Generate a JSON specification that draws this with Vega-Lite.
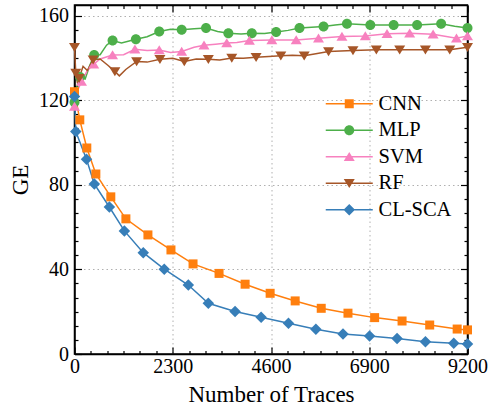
{
  "$schema": "https://vega.github.io/schema/vega-lite/v6.json",
  "width": 393,
  "height": 349,
  "autosize": {"type": "none"},
  "padding": {"left": 74.5, "top": 5, "right": 31.5, "bottom": 57},
  "config": {
    "view": {"stroke": "black", "strokeWidth": 1.5},
    "font": "Liberation Serif",
    "axis": {
      "labelFont": "Liberation Serif", "titleFont": "Liberation Serif",
      "labelFontSize": 20, "titleFontSize": 23, "titleFontWeight": "normal",
      "labelColor": "black", "titleColor": "black",
      "domainColor": "black", "domainWidth": 1.5,
      "tickColor": "black", "tickWidth": 1.2,
      "gridColor": "#b0b0b0", "gridDash": [1.5, 3], "gridWidth": 1
    },
    "legend": {
      "orient": "none", "legendX": 264.5, "legendY": 88.5,
      "labelFont": "Liberation Serif", "labelFontSize": 20.5, "labelColor": "black",
      "labelOffset": 19, "rowPadding": 5.5, "symbolSize": 100, "symbolStrokeWidth": 0,
      "padding": 0
    }
  },
  "datasets": {
    "curve": [
      {"series": "CNN", "t": 0, "ge": 124}, {"series": "CNN", "t": 124, "ge": 110.7}, {"series": "CNN", "t": 288, "ge": 97.4}, {"series": "CNN", "t": 500, "ge": 85.1}, {"series": "CNN", "t": 850, "ge": 74.3}, {"series": "CNN", "t": 1203, "ge": 63.9}, {"series": "CNN", "t": 1719, "ge": 56.3}, {"series": "CNN", "t": 2258, "ge": 49.2}, {"series": "CNN", "t": 2775, "ge": 42.6}, {"series": "CNN", "t": 3384, "ge": 38.1}, {"series": "CNN", "t": 3994, "ge": 33}, {"series": "CNN", "t": 4580, "ge": 28.7}, {"series": "CNN", "t": 5166, "ge": 25.1}, {"series": "CNN", "t": 5776, "ge": 21.6}, {"series": "CNN", "t": 6402, "ge": 19.3}, {"series": "CNN", "t": 7026, "ge": 17.2}, {"series": "CNN", "t": 7668, "ge": 15.6}, {"series": "CNN", "t": 8315, "ge": 13.7}, {"series": "CNN", "t": 8958, "ge": 11.8}, {"series": "CNN", "t": 9200, "ge": 11.4},

      {"series": "MLP", "t": 0, "ge": 119}, {"series": "MLP", "t": 50, "ge": 126}, {"series": "MLP", "t": 130, "ge": 131}, {"series": "MLP", "t": 250, "ge": 130}, {"series": "MLP", "t": 350, "ge": 136}, {"series": "MLP", "t": 460, "ge": 141.4}, {"series": "MLP", "t": 600, "ge": 141.5}, {"series": "MLP", "t": 750, "ge": 146}, {"series": "MLP", "t": 891, "ge": 148.2}, {"series": "MLP", "t": 1100, "ge": 147}, {"series": "MLP", "t": 1437, "ge": 148.8}, {"series": "MLP", "t": 1700, "ge": 150}, {"series": "MLP", "t": 1984, "ge": 152.5}, {"series": "MLP", "t": 2250, "ge": 153.5}, {"series": "MLP", "t": 2509, "ge": 153.3}, {"series": "MLP", "t": 2800, "ge": 153.8}, {"series": "MLP", "t": 3079, "ge": 154.1}, {"series": "MLP", "t": 3350, "ge": 152.5}, {"series": "MLP", "t": 3602, "ge": 151.7}, {"series": "MLP", "t": 3900, "ge": 151.3}, {"series": "MLP", "t": 4151, "ge": 151.7}, {"series": "MLP", "t": 4450, "ge": 151.5}, {"series": "MLP", "t": 4720, "ge": 152.2}, {"series": "MLP", "t": 5000, "ge": 153}, {"series": "MLP", "t": 5267, "ge": 154.1}, {"series": "MLP", "t": 5550, "ge": 154.5}, {"series": "MLP", "t": 5830, "ge": 154.8}, {"series": "MLP", "t": 6100, "ge": 155.5}, {"series": "MLP", "t": 6378, "ge": 156.1}, {"series": "MLP", "t": 6925, "ge": 155.6}, {"series": "MLP", "t": 7471, "ge": 155.6}, {"series": "MLP", "t": 8020, "ge": 155.6}, {"series": "MLP", "t": 8583, "ge": 156.1}, {"series": "MLP", "t": 8900, "ge": 155}, {"series": "MLP", "t": 9200, "ge": 154.1},

      {"series": "SVM", "t": 0, "ge": 117}, {"series": "SVM", "t": 60, "ge": 124}, {"series": "SVM", "t": 164, "ge": 128.8}, {"series": "SVM", "t": 300, "ge": 134}, {"series": "SVM", "t": 450, "ge": 137}, {"series": "SVM", "t": 600, "ge": 139.5}, {"series": "SVM", "t": 891, "ge": 141.4}, {"series": "SVM", "t": 1150, "ge": 141.5}, {"series": "SVM", "t": 1414, "ge": 144.1}, {"series": "SVM", "t": 1700, "ge": 143.5}, {"series": "SVM", "t": 1984, "ge": 143.7}, {"series": "SVM", "t": 2250, "ge": 142.5}, {"series": "SVM", "t": 2509, "ge": 143}, {"series": "SVM", "t": 2800, "ge": 145}, {"series": "SVM", "t": 3032, "ge": 146}, {"series": "SVM", "t": 3300, "ge": 146.5}, {"series": "SVM", "t": 3564, "ge": 147}, {"series": "SVM", "t": 3800, "ge": 147.3}, {"series": "SVM", "t": 4094, "ge": 148.2}, {"series": "SVM", "t": 4620, "ge": 148.5}, {"series": "SVM", "t": 5190, "ge": 148.5}, {"series": "SVM", "t": 5712, "ge": 149.3}, {"series": "SVM", "t": 6261, "ge": 150.1}, {"series": "SVM", "t": 6808, "ge": 150.4}, {"series": "SVM", "t": 7316, "ge": 151.4}, {"series": "SVM", "t": 7846, "ge": 151.7}, {"series": "SVM", "t": 8395, "ge": 151.2}, {"series": "SVM", "t": 8942, "ge": 149.3}, {"series": "SVM", "t": 9200, "ge": 150.4},

      {"series": "RF", "t": 0, "ge": 145}, {"series": "RF", "t": 30, "ge": 132.8}, {"series": "RF", "t": 70, "ge": 128}, {"series": "RF", "t": 108, "ge": 130.4}, {"series": "RF", "t": 200, "ge": 136}, {"series": "RF", "t": 300, "ge": 134}, {"series": "RF", "t": 436, "ge": 139.1}, {"series": "RF", "t": 600, "ge": 139.5}, {"series": "RF", "t": 780, "ge": 136.5}, {"series": "RF", "t": 945, "ge": 133.6}, {"series": "RF", "t": 1050, "ge": 131.5}, {"series": "RF", "t": 1200, "ge": 134.5}, {"series": "RF", "t": 1454, "ge": 138.3}, {"series": "RF", "t": 1700, "ge": 138}, {"series": "RF", "t": 2000, "ge": 139.4}, {"series": "RF", "t": 2300, "ge": 139.8}, {"series": "RF", "t": 2570, "ge": 138.3}, {"series": "RF", "t": 2850, "ge": 139.5}, {"series": "RF", "t": 3133, "ge": 139.4}, {"series": "RF", "t": 3400, "ge": 139}, {"series": "RF", "t": 3682, "ge": 139.9}, {"series": "RF", "t": 3950, "ge": 139.8}, {"series": "RF", "t": 4251, "ge": 140.3}, {"series": "RF", "t": 4550, "ge": 140.6}, {"series": "RF", "t": 4830, "ge": 141}, {"series": "RF", "t": 5100, "ge": 141.3}, {"series": "RF", "t": 5377, "ge": 141}, {"series": "RF", "t": 5650, "ge": 142}, {"series": "RF", "t": 5947, "ge": 143}, {"series": "RF", "t": 6519, "ge": 143.5}, {"series": "RF", "t": 7066, "ge": 143.8}, {"series": "RF", "t": 7612, "ge": 143.8}, {"series": "RF", "t": 8215, "ge": 143.8}, {"series": "RF", "t": 8784, "ge": 143.8}, {"series": "RF", "t": 9200, "ge": 145},

      {"series": "CL-SCA", "t": 0, "ge": 121.7}, {"series": "CL-SCA", "t": 30, "ge": 105.2}, {"series": "CL-SCA", "t": 281, "ge": 92.1}, {"series": "CL-SCA", "t": 464, "ge": 80.4}, {"series": "CL-SCA", "t": 816, "ge": 69.5}, {"series": "CL-SCA", "t": 1168, "ge": 58.2}, {"series": "CL-SCA", "t": 1609, "ge": 47.9}, {"series": "CL-SCA", "t": 2101, "ge": 40.1}, {"series": "CL-SCA", "t": 2664, "ge": 32.6}, {"series": "CL-SCA", "t": 3133, "ge": 24}, {"series": "CL-SCA", "t": 3759, "ge": 20.1}, {"series": "CL-SCA", "t": 4369, "ge": 17.4}, {"series": "CL-SCA", "t": 5009, "ge": 14.5}, {"series": "CL-SCA", "t": 5651, "ge": 11.7}, {"series": "CL-SCA", "t": 6285, "ge": 9.5}, {"series": "CL-SCA", "t": 6908, "ge": 8.5}, {"series": "CL-SCA", "t": 7551, "ge": 7.3}, {"series": "CL-SCA", "t": 8215, "ge": 5.8}, {"series": "CL-SCA", "t": 8878, "ge": 5.1}, {"series": "CL-SCA", "t": 9200, "ge": 4.7}
    ],
    "markers": [
      {"series": "CNN", "t": 0, "ge": 124}, {"series": "CNN", "t": 124, "ge": 110.7}, {"series": "CNN", "t": 288, "ge": 97.4}, {"series": "CNN", "t": 500, "ge": 85.1}, {"series": "CNN", "t": 850, "ge": 74.3}, {"series": "CNN", "t": 1203, "ge": 63.9}, {"series": "CNN", "t": 1719, "ge": 56.3}, {"series": "CNN", "t": 2258, "ge": 49.2}, {"series": "CNN", "t": 2775, "ge": 42.6}, {"series": "CNN", "t": 3384, "ge": 38.1}, {"series": "CNN", "t": 3994, "ge": 33}, {"series": "CNN", "t": 4580, "ge": 28.7}, {"series": "CNN", "t": 5166, "ge": 25.1}, {"series": "CNN", "t": 5776, "ge": 21.6}, {"series": "CNN", "t": 6402, "ge": 19.3}, {"series": "CNN", "t": 7026, "ge": 17.2}, {"series": "CNN", "t": 7668, "ge": 15.6}, {"series": "CNN", "t": 8315, "ge": 13.7}, {"series": "CNN", "t": 8958, "ge": 11.8}, {"series": "CNN", "t": 9200, "ge": 11.4},

      {"series": "MLP", "t": 0, "ge": 119}, {"series": "MLP", "t": 130, "ge": 131}, {"series": "MLP", "t": 460, "ge": 141.4}, {"series": "MLP", "t": 891, "ge": 148.2}, {"series": "MLP", "t": 1437, "ge": 148.8}, {"series": "MLP", "t": 1984, "ge": 152.5}, {"series": "MLP", "t": 2509, "ge": 153.3}, {"series": "MLP", "t": 3079, "ge": 154.1}, {"series": "MLP", "t": 3602, "ge": 151.7}, {"series": "MLP", "t": 4151, "ge": 151.7}, {"series": "MLP", "t": 4720, "ge": 152.2}, {"series": "MLP", "t": 5267, "ge": 154.1}, {"series": "MLP", "t": 5830, "ge": 154.8}, {"series": "MLP", "t": 6378, "ge": 156.1}, {"series": "MLP", "t": 6925, "ge": 155.6}, {"series": "MLP", "t": 7471, "ge": 155.6}, {"series": "MLP", "t": 8020, "ge": 155.6}, {"series": "MLP", "t": 8583, "ge": 156.1}, {"series": "MLP", "t": 9200, "ge": 154.1},

      {"series": "SVM", "t": 0, "ge": 117}, {"series": "SVM", "t": 164, "ge": 128.8}, {"series": "SVM", "t": 450, "ge": 137}, {"series": "SVM", "t": 891, "ge": 141.4}, {"series": "SVM", "t": 1414, "ge": 144.1}, {"series": "SVM", "t": 1984, "ge": 143.7}, {"series": "SVM", "t": 2509, "ge": 143}, {"series": "SVM", "t": 3032, "ge": 146}, {"series": "SVM", "t": 3564, "ge": 147}, {"series": "SVM", "t": 4094, "ge": 148.2}, {"series": "SVM", "t": 4620, "ge": 148.5}, {"series": "SVM", "t": 5190, "ge": 148.5}, {"series": "SVM", "t": 5712, "ge": 149.3}, {"series": "SVM", "t": 6261, "ge": 150.1}, {"series": "SVM", "t": 6808, "ge": 150.4}, {"series": "SVM", "t": 7316, "ge": 151.4}, {"series": "SVM", "t": 7846, "ge": 151.7}, {"series": "SVM", "t": 8395, "ge": 151.2}, {"series": "SVM", "t": 8942, "ge": 149.3}, {"series": "SVM", "t": 9200, "ge": 150.4},

      {"series": "RF", "t": 0, "ge": 145}, {"series": "RF", "t": 30, "ge": 132.8}, {"series": "RF", "t": 108, "ge": 130.4}, {"series": "RF", "t": 436, "ge": 139.1}, {"series": "RF", "t": 945, "ge": 133.6}, {"series": "RF", "t": 1454, "ge": 138.3}, {"series": "RF", "t": 2000, "ge": 139.4}, {"series": "RF", "t": 2570, "ge": 138.3}, {"series": "RF", "t": 3133, "ge": 139.4}, {"series": "RF", "t": 3682, "ge": 139.9}, {"series": "RF", "t": 4251, "ge": 140.3}, {"series": "RF", "t": 4830, "ge": 141}, {"series": "RF", "t": 5377, "ge": 141}, {"series": "RF", "t": 5947, "ge": 143}, {"series": "RF", "t": 6519, "ge": 143.5}, {"series": "RF", "t": 7066, "ge": 143.8}, {"series": "RF", "t": 7612, "ge": 143.8}, {"series": "RF", "t": 8215, "ge": 143.8}, {"series": "RF", "t": 8784, "ge": 143.8}, {"series": "RF", "t": 9200, "ge": 145},

      {"series": "CL-SCA", "t": 0, "ge": 121.7}, {"series": "CL-SCA", "t": 30, "ge": 105.2}, {"series": "CL-SCA", "t": 281, "ge": 92.1}, {"series": "CL-SCA", "t": 464, "ge": 80.4}, {"series": "CL-SCA", "t": 816, "ge": 69.5}, {"series": "CL-SCA", "t": 1168, "ge": 58.2}, {"series": "CL-SCA", "t": 1609, "ge": 47.9}, {"series": "CL-SCA", "t": 2101, "ge": 40.1}, {"series": "CL-SCA", "t": 2664, "ge": 32.6}, {"series": "CL-SCA", "t": 3133, "ge": 24}, {"series": "CL-SCA", "t": 3759, "ge": 20.1}, {"series": "CL-SCA", "t": 4369, "ge": 17.4}, {"series": "CL-SCA", "t": 5009, "ge": 14.5}, {"series": "CL-SCA", "t": 5651, "ge": 11.7}, {"series": "CL-SCA", "t": 6285, "ge": 9.5}, {"series": "CL-SCA", "t": 6908, "ge": 8.5}, {"series": "CL-SCA", "t": 7551, "ge": 7.3}, {"series": "CL-SCA", "t": 8215, "ge": 5.8}, {"series": "CL-SCA", "t": 8878, "ge": 5.1}, {"series": "CL-SCA", "t": 9200, "ge": 4.7}
    ]
  },
  "resolve": {
    "scale": {"color": "independent", "shape": "independent"},
    "axis": {"x": "independent", "y": "independent"}
  },
  "layer": [
    {
      "data": {"name": "curve"},
      "mark": {"type": "line", "strokeWidth": 1.5},
      "encoding": {
        "x": {
          "field": "t", "type": "quantitative",
          "scale": {"domain": [0, 9200], "nice": false, "zero": false},
          "axis": {
            "orient": "bottom", "title": "Number of Traces", "format": "d",
            "values": [0, 383.33, 766.67, 1150, 1533.33, 1916.67, 2300, 2683.33, 3066.67, 3450, 3833.33, 4216.67, 4600, 4983.33, 5366.67, 5750, 6133.33, 6516.67, 6900, 7283.33, 7666.67, 8050, 8433.33, 8816.67, 9200],
            "labelExpr": "abs(datum.value/2300 - round(datum.value/2300)) < 0.001 ? datum.label : ''",
            "tickSize": {"condition": {"test": "abs(datum.value/2300 - round(datum.value/2300)) < 0.001", "value": -7}, "value": -3.5},
            "labelPadding": 9,
            "grid": true,
            "gridOpacity": {"condition": {"test": "abs(datum.value/2300 - round(datum.value/2300)) < 0.001 && datum.value > 0 && datum.value < 9200", "value": 1}, "value": 0},
            "labelFlush": false, "labelOverlap": false, "titlePadding": 4
          }
        },
        "y": {
          "field": "ge", "type": "quantitative",
          "scale": {"domain": [0, 165], "nice": false, "zero": false},
          "axis": {
            "orient": "left", "title": "GE", "format": "d",
            "values": [0, 6.667, 13.333, 20, 26.667, 33.333, 40, 46.667, 53.333, 60, 66.667, 73.333, 80, 86.667, 93.333, 100, 106.667, 113.333, 120, 126.667, 133.333, 140, 146.667, 153.333, 160],
            "labelExpr": "abs(datum.value/40 - round(datum.value/40)) < 0.001 ? datum.label : ''",
            "tickSize": {"condition": {"test": "abs(datum.value/40 - round(datum.value/40)) < 0.001", "value": -7}, "value": -3.5},
            "labelPadding": 13,
            "grid": true,
            "gridOpacity": {"condition": {"test": "abs(datum.value/40 - round(datum.value/40)) < 0.001 && datum.value > 0", "value": 1}, "value": 0},
            "labelFlush": false, "labelOverlap": false, "titlePadding": 6
          }
        },
        "color": {
          "field": "series", "type": "nominal",
          "scale": {"domain": ["CNN", "MLP", "SVM", "RF", "CL-SCA"], "range": ["#ff7f0e", "#4daf4a", "#f781bf", "#a65628", "#377eb8"]},
          "legend": null
        }
      }
    },
    {
      "data": {"name": "markers"},
      "mark": {"type": "point", "filled": true, "size": 100, "opacity": 1},
      "encoding": {
        "x": {
          "field": "t", "type": "quantitative",
          "scale": {"domain": [0, 9200], "nice": false, "zero": false},
          "axis": {
            "orient": "top", "title": null, "labels": false, "grid": false,
            "values": [0, 383.33, 766.67, 1150, 1533.33, 1916.67, 2300, 2683.33, 3066.67, 3450, 3833.33, 4216.67, 4600, 4983.33, 5366.67, 5750, 6133.33, 6516.67, 6900, 7283.33, 7666.67, 8050, 8433.33, 8816.67, 9200],
            "tickSize": {"condition": {"test": "abs(datum.value/2300 - round(datum.value/2300)) < 0.001", "value": -7}, "value": -3.5}
          }
        },
        "y": {
          "field": "ge", "type": "quantitative",
          "scale": {"domain": [0, 165], "nice": false, "zero": false},
          "axis": {
            "orient": "right", "title": null, "labels": false, "grid": false,
            "values": [0, 6.667, 13.333, 20, 26.667, 33.333, 40, 46.667, 53.333, 60, 66.667, 73.333, 80, 86.667, 93.333, 100, 106.667, 113.333, 120, 126.667, 133.333, 140, 146.667, 153.333, 160],
            "tickSize": {"condition": {"test": "abs(datum.value/40 - round(datum.value/40)) < 0.001", "value": -7}, "value": -3.5}
          }
        },
        "color": {
          "field": "series", "type": "nominal",
          "scale": {"domain": ["CNN", "MLP", "SVM", "RF", "CL-SCA"], "range": ["#ff7f0e", "#4daf4a", "#f781bf", "#a65628", "#377eb8"]},
          "legend": null
        },
        "shape": {
          "field": "series", "type": "nominal",
          "scale": {"domain": ["CNN", "MLP", "SVM", "RF", "CL-SCA"], "range": [
            "M-0.9 -0.9H0.9V0.9H-0.9Z",
            "M1 0A1 1 0 1 1 -1 0A1 1 0 1 1 1 0Z",
            "M0 -0.95L1.1 0.85L-1.1 0.85Z",
            "M-1.1 -0.85L1.1 -0.85L0 0.95Z",
            "M0 -1.15L1.15 0L0 1.15L-1.15 0Z"
          ]},
          "legend": null
        }
      }
    },
    {
      "data": {"name": "markers"},
      "transform": [{"filter": "false"}],
      "mark": {"type": "point", "filled": true, "size": 100, "opacity": 1},
      "encoding": {
        "color": {
          "field": "series", "type": "nominal",
          "scale": {"domain": ["CNN", "MLP", "SVM", "RF", "CL-SCA"], "range": ["#ff7f0e", "#4daf4a", "#f781bf", "#a65628", "#377eb8"]},
          "legend": {"title": null}
        },
        "shape": {
          "field": "series", "type": "nominal",
          "scale": {"domain": ["CNN", "MLP", "SVM", "RF", "CL-SCA"], "range": [
            "M-4.7 -0.15H4.7V0.15H-4.7Z M-0.9 -0.9H0.9V0.9H-0.9Z",
            "M-4.7 -0.15H4.7V0.15H-4.7Z M1 0A1 1 0 1 1 -1 0A1 1 0 1 1 1 0Z",
            "M-4.7 -0.15H4.7V0.15H-4.7Z M0 -0.95L1.1 0.85L-1.1 0.85Z",
            "M-4.7 -0.15H4.7V0.15H-4.7Z M-1.1 -0.85L1.1 -0.85L0 0.95Z",
            "M-4.7 -0.15H4.7V0.15H-4.7Z M0 -1.15L1.15 0L0 1.15L-1.15 0Z"
          ]},
          "legend": {"title": null}
        }
      }
    }
  ]
}
